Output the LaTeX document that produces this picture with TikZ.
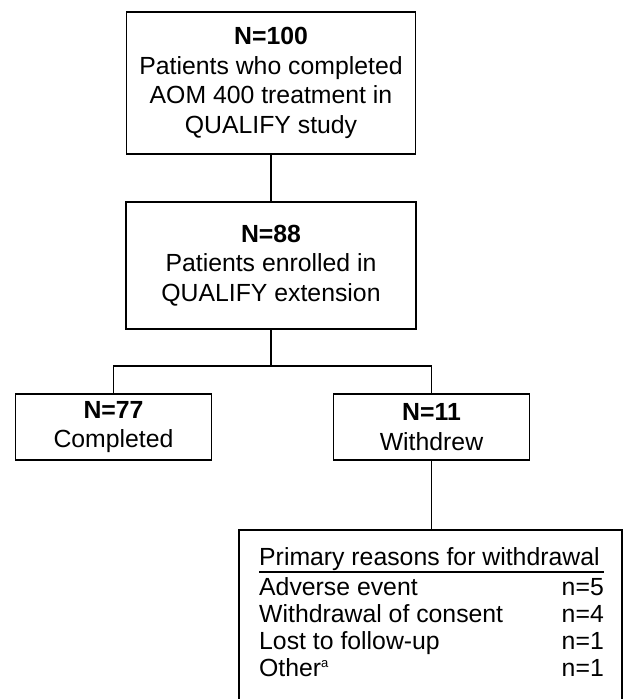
\documentclass[tikz,border=0pt]{standalone}
\usepackage{fontspec}
\setmainfont{Liberation Sans}
\begin{document}
\begin{tikzpicture}[x=1bp,y=-1bp,
  box/.style={draw, line width=1.6bp, inner sep=0pt, align=center,
    font=\fontsize{24.8bp}{29.5bp}\selectfont},
  txt/.style={inner sep=0pt, font=\fontsize{24.8bp}{27bp}\selectfont},
  conn/.style={line width=1.6bp}]
\useasboundingbox (0,0) rectangle (623,699);
\node[box, minimum width=289bp, minimum height=142bp] (top) at (271,83)
  {\textbf{N=100}\\Patients who completed\\AOM 400 treatment in\\QUALIFY study};
\node[box, minimum width=290bp, minimum height=127bp] (ext) at (271,265.5)
  {\textbf{N=88}\\Patients enrolled in\\QUALIFY extension};
\node[box, minimum width=196bp, minimum height=66bp] (comp) at (113.5,427)
  {\textbf{N=77}\\Completed};
\node[box, minimum width=196bp, minimum height=66bp] (wd) at (431.5,427)
  {\textbf{N=11}\\Withdrew};
\node[box, minimum width=383bp, minimum height=180bp] (reasons) at (430.5,620) {};
\coordinate (j) at (271,366);
\coordinate (jl) at (113.5,366);
\coordinate (jr) at (431.5,366);
\draw[conn] (top.south) -- (ext.north);
\draw[conn] (ext.south) -- (j);
\draw[conn] (comp.north) -- (jl) -- (jr) -- (wd.north);
\draw[conn] (wd.south) -- (wd.south |- reasons.north);
% reasons content
\node[txt, anchor=base west] (hd) at (259,565) {Primary reasons for withdrawal};
\coordinate (ul1) at (259,572);
\coordinate (ul2) at (604,572);
\draw[line width=2.6bp] (ul1) -- (ul2);
\node[txt, anchor=base west] (r1) at (259,595) {Adverse event};
\node[txt, anchor=base west] (r2) at (259,622) {Withdrawal of consent};
\node[txt, anchor=base west] (r3) at (259,649) {Lost to follow-up};
\node[txt, anchor=base west] (r4) at (259,676) {Other\textsuperscript{\fontsize{13bp}{13bp}\selectfont a}};
\node[txt, anchor=base east] (n1) at (604,595) {n=5};
\node[txt, anchor=base east] (n2) at (604,622) {n=4};
\node[txt, anchor=base east] (n3) at (604,649) {n=1};
\node[txt, anchor=base east] (n4) at (604,676) {n=1};
\end{tikzpicture}
\end{document}
